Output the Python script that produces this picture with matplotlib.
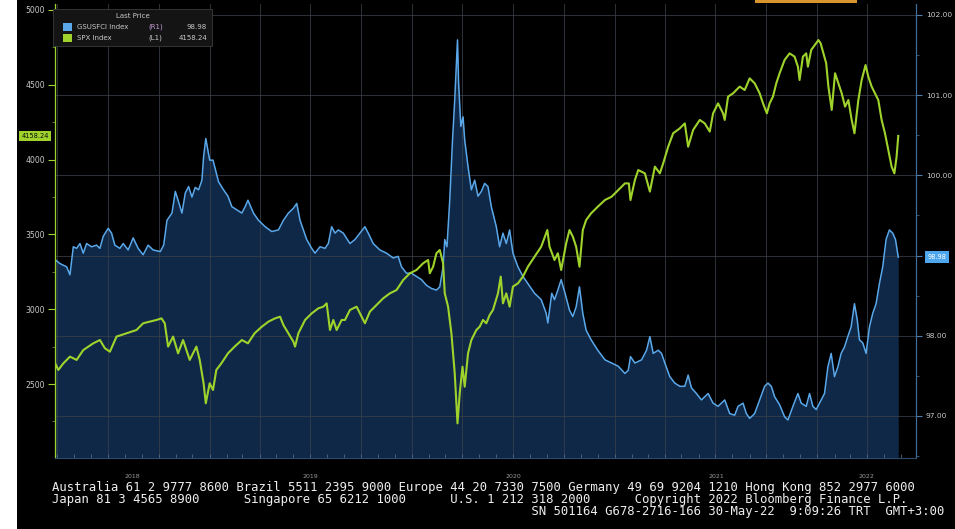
import matplotlib
matplotlib.use("Agg")
import matplotlib.pyplot as plt
import matplotlib.dates as mdates
import matplotlib.transforms as mtransforms
from matplotlib.patches import Rectangle
from matplotlib.ticker import FixedLocator, MultipleLocator, FormatStrFormatter
import pandas as pd

# ---------------- data ----------------
spx_dates = [
    '2018-03-28', '2018-04-03', '2018-04-12', '2018-04-24', '2018-05-06', '2018-05-18', '2018-06-05', '2018-06-17', '2018-06-26', '2018-07-05',
    '2018-07-17', '2018-08-04', '2018-08-22', '2018-09-03', '2018-09-15', '2018-09-27', '2018-10-06', '2018-10-12', '2018-10-18', '2018-10-27',
    '2018-11-05', '2018-11-14', '2018-11-26', '2018-12-08', '2018-12-14', '2018-12-21', '2018-12-25', '2019-01-01', '2019-01-07', '2019-01-13',
    '2019-01-22', '2019-02-03', '2019-02-15', '2019-02-28', '2019-03-11', '2019-03-23', '2019-04-05', '2019-04-17', '2019-04-29', '2019-05-08',
    '2019-05-14', '2019-05-23', '2019-06-01', '2019-06-04', '2019-06-10', '2019-06-22', '2019-07-04', '2019-07-16', '2019-07-25', '2019-07-31',
    '2019-08-06', '2019-08-12', '2019-08-18', '2019-08-27', '2019-09-02', '2019-09-11', '2019-09-23', '2019-10-02', '2019-10-08', '2019-10-17',
    '2019-10-29', '2019-11-10', '2019-11-22', '2019-12-04', '2019-12-16', '2019-12-28', '2020-01-09', '2020-01-21', '2020-01-30', '2020-02-02',
    '2020-02-08', '2020-02-14', '2020-02-20', '2020-02-26', '2020-02-29', '2020-03-06', '2020-03-12', '2020-03-18', '2020-03-23', '2020-03-27',
    '2020-04-01', '2020-04-05', '2020-04-11', '2020-04-17', '2020-04-26', '2020-05-02', '2020-05-08', '2020-05-14', '2020-05-20', '2020-05-26',
    '2020-06-04', '2020-06-09', '2020-06-13', '2020-06-19', '2020-06-25', '2020-07-01', '2020-07-10', '2020-07-19', '2020-07-28', '2020-08-09',
    '2020-08-21', '2020-09-01', '2020-09-05', '2020-09-14', '2020-09-20', '2020-09-26', '2020-10-05', '2020-10-11', '2020-10-17', '2020-10-23',
    '2020-10-29', '2020-11-04', '2020-11-10', '2020-11-19', '2020-12-01', '2020-12-14', '2020-12-26', '2021-01-07', '2021-01-19', '2021-01-26',
    '2021-01-29', '2021-02-06', '2021-02-12', '2021-02-24', '2021-03-05', '2021-03-14', '2021-03-23', '2021-03-29', '2021-04-07', '2021-04-16',
    '2021-04-28', '2021-05-07', '2021-05-13', '2021-05-22', '2021-06-03', '2021-06-12', '2021-06-21', '2021-06-27', '2021-07-06', '2021-07-15',
    '2021-07-18', '2021-07-24', '2021-08-02', '2021-08-14', '2021-08-23', '2021-09-01', '2021-09-10', '2021-09-19', '2021-09-25', '2021-10-02',
    '2021-10-07', '2021-10-13', '2021-10-19', '2021-10-25', '2021-11-03', '2021-11-12', '2021-11-21', '2021-11-27', '2021-11-30', '2021-12-06',
    '2021-12-12', '2021-12-15', '2021-12-21', '2022-01-03', '2022-01-07', '2022-01-12', '2022-01-17', '2022-01-21', '2022-01-27', '2022-02-02',
    '2022-02-08', '2022-02-14', '2022-02-20', '2022-02-26', '2022-03-04', '2022-03-09', '2022-03-16', '2022-03-22', '2022-03-29', '2022-04-03',
    '2022-04-09', '2022-04-15', '2022-04-21', '2022-04-27', '2022-05-03', '2022-05-09', '2022-05-15', '2022-05-20', '2022-05-24', '2022-05-27',
]
spx_values = [
    2640, 2594, 2638, 2683, 2661, 2727, 2772, 2794, 2739, 2716,
    2817, 2839, 2861, 2906, 2917, 2928, 2939, 2906, 2750, 2817,
    2705, 2794, 2661, 2750, 2661, 2505, 2371, 2505, 2460, 2594,
    2638, 2705, 2750, 2794, 2772, 2839, 2883, 2917, 2939, 2950,
    2894, 2839, 2783, 2750, 2839, 2928, 2972, 3006, 3017, 3039,
    2861, 2928, 2861, 2928, 2928, 2995, 3017, 2950, 2906, 2984,
    3028, 3073, 3106, 3128, 3195, 3240, 3262, 3307, 3329, 3240,
    3284, 3374, 3396, 3307, 3106, 3017, 2839, 2571, 2237, 2438,
    2616, 2482, 2705, 2794, 2861, 2883, 2928, 2906, 2961, 2995,
    3106, 3218, 3039, 3106, 3017, 3151, 3173, 3218, 3284, 3351,
    3418, 3529, 3418, 3329, 3374, 3262, 3440, 3529, 3485, 3418,
    3284, 3529, 3596, 3641, 3685, 3730, 3752, 3797, 3841, 3841,
    3730, 3864, 3930, 3908, 3786, 3953, 3908, 3975, 4086, 4176,
    4209, 4242, 4086, 4198, 4265, 4242, 4187, 4309, 4376, 4309,
    4265, 4421, 4443, 4488, 4465, 4543, 4510, 4443, 4376, 4309,
    4376, 4421, 4510, 4577, 4666, 4710, 4688, 4621, 4532, 4688,
    4710, 4621, 4733, 4799, 4777, 4710, 4644, 4488, 4332, 4577,
    4510, 4443, 4354, 4398, 4265, 4176, 4398, 4532, 4632, 4554,
    4488, 4443, 4398, 4265, 4176, 4064, 3953, 3908, 4020, 4158.24,
]

fci_dates = [
    '2018-03-28', '2018-04-06', '2018-04-18', '2018-04-24', '2018-04-30', '2018-05-06', '2018-05-12', '2018-05-18', '2018-05-24', '2018-06-02',
    '2018-06-11', '2018-06-17', '2018-06-23', '2018-07-02', '2018-07-08', '2018-07-14', '2018-07-23', '2018-07-29', '2018-08-07', '2018-08-16',
    '2018-08-25', '2018-09-03', '2018-09-12', '2018-09-21', '2018-10-04', '2018-10-10', '2018-10-16', '2018-10-25', '2018-10-31', '2018-11-05',
    '2018-11-12', '2018-11-18', '2018-11-24', '2018-11-30', '2018-12-06', '2018-12-12', '2018-12-18', '2018-12-21', '2018-12-25', '2019-01-01',
    '2019-01-07', '2019-01-13', '2019-01-17', '2019-01-26', '2019-02-03', '2019-02-10', '2019-02-19', '2019-02-28', '2019-03-06', '2019-03-11',
    '2019-03-21', '2019-03-30', '2019-04-11', '2019-04-23', '2019-05-05', '2019-05-14', '2019-05-23', '2019-06-01', '2019-06-07', '2019-06-13',
    '2019-06-19', '2019-06-25', '2019-07-04', '2019-07-10', '2019-07-19', '2019-07-28', '2019-08-03', '2019-08-09', '2019-08-15', '2019-08-21',
    '2019-08-30', '2019-09-11', '2019-09-20', '2019-09-29', '2019-10-08', '2019-10-14', '2019-10-23', '2019-11-04', '2019-11-16', '2019-11-28',
    '2019-12-07', '2019-12-13', '2019-12-22', '2019-12-31', '2020-01-09', '2020-01-18', '2020-01-27', '2020-02-05', '2020-02-14', '2020-02-20',
    '2020-02-26', '2020-02-29', '2020-03-04', '2020-03-09', '2020-03-14', '2020-03-18', '2020-03-23', '2020-03-25', '2020-03-29', '2020-04-02',
    '2020-04-05', '2020-04-11', '2020-04-17', '2020-04-23', '2020-04-29', '2020-05-05', '2020-05-11', '2020-05-17', '2020-05-23', '2020-06-01',
    '2020-06-07', '2020-06-13', '2020-06-19', '2020-06-25', '2020-07-01', '2020-07-10', '2020-07-19', '2020-07-28', '2020-08-09', '2020-08-21',
    '2020-08-30', '2020-09-02', '2020-09-09', '2020-09-14', '2020-09-20', '2020-09-26', '2020-10-03', '2020-10-11', '2020-10-17', '2020-10-23',
    '2020-10-29', '2020-11-04', '2020-11-10', '2020-11-19', '2020-12-01', '2020-12-14', '2020-12-26', '2021-01-07', '2021-01-19', '2021-01-25',
    '2021-01-29', '2021-02-06', '2021-02-18', '2021-02-27', '2021-03-05', '2021-03-11', '2021-03-20', '2021-03-26', '2021-04-01', '2021-04-10',
    '2021-04-19', '2021-04-28', '2021-05-07', '2021-05-13', '2021-05-19', '2021-05-28', '2021-06-06', '2021-06-18', '2021-06-27', '2021-07-06',
    '2021-07-18', '2021-07-27', '2021-08-05', '2021-08-11', '2021-08-20', '2021-08-26', '2021-09-01', '2021-09-10', '2021-09-19', '2021-09-28',
    '2021-10-04', '2021-10-10', '2021-10-16', '2021-10-25', '2021-11-03', '2021-11-09', '2021-11-18', '2021-11-27', '2021-12-03', '2021-12-12',
    '2021-12-18', '2021-12-24', '2021-12-30', '2022-01-08', '2022-01-14', '2022-01-20', '2022-01-26', '2022-02-01', '2022-02-07', '2022-02-13',
    '2022-02-19', '2022-02-25', '2022-03-03', '2022-03-09', '2022-03-14', '2022-03-18', '2022-03-24', '2022-03-30', '2022-04-05', '2022-04-11',
    '2022-04-17', '2022-04-23', '2022-04-29', '2022-05-05', '2022-05-11', '2022-05-17', '2022-05-22', '2022-05-27',
]
fci_values = [
    98.95, 98.90, 98.86, 98.76, 99.11, 99.09, 99.15, 99.03, 99.15, 99.11,
    99.13, 99.09, 99.24, 99.34, 99.28, 99.13, 99.09, 99.15, 99.07, 99.22,
    99.09, 99.01, 99.13, 99.07, 99.05, 99.13, 99.44, 99.53, 99.80, 99.69,
    99.53, 99.78, 99.86, 99.73, 99.85, 99.82, 99.94, 100.23, 100.46, 100.19,
    100.19, 100.03, 99.92, 99.82, 99.74, 99.61, 99.57, 99.53, 99.61, 99.69,
    99.53, 99.44, 99.36, 99.30, 99.32, 99.44, 99.53, 99.59, 99.65, 99.44,
    99.32, 99.20, 99.09, 99.03, 99.11, 99.09, 99.15, 99.36, 99.28, 99.32,
    99.28, 99.15, 99.20, 99.28, 99.36, 99.28, 99.15, 99.07, 99.03, 98.97,
    98.99, 98.86, 98.78, 98.78, 98.74, 98.70, 98.63, 98.59, 98.57, 98.61,
    98.86, 99.20, 99.11, 99.69, 100.44, 100.94, 101.69, 101.15, 100.61, 100.73,
    100.44, 100.11, 99.82, 99.94, 99.74, 99.80, 99.90, 99.86, 99.61, 99.36,
    99.11, 99.28, 99.15, 99.32, 99.03, 98.86, 98.74, 98.65, 98.53, 98.45,
    98.28, 98.16, 98.53, 98.45, 98.57, 98.70, 98.53, 98.32, 98.24, 98.36,
    98.61, 98.28, 98.07, 97.95, 97.82, 97.70, 97.66, 97.62, 97.53, 97.57,
    97.74, 97.66, 97.70, 97.82, 97.99, 97.78, 97.82, 97.78, 97.66, 97.49,
    97.41, 97.37, 97.37, 97.51, 97.35, 97.28, 97.20, 97.28, 97.16, 97.12,
    97.20, 97.03, 97.01, 97.12, 97.16, 97.03, 96.97, 97.03, 97.20, 97.37,
    97.41, 97.37, 97.24, 97.14, 96.99, 96.95, 97.12, 97.28, 97.16, 97.12,
    97.28, 97.12, 97.08, 97.20, 97.28, 97.61, 97.78, 97.49, 97.61, 97.78,
    97.86, 97.99, 98.11, 98.40, 98.20, 97.95, 97.91, 97.78, 98.11, 98.28,
    98.40, 98.65, 98.86, 99.20, 99.32, 99.28, 99.20, 98.98,
]

spx_ticks = [2500, 3000, 3500, 4000, 4500, 5000]
fci_ticks = [97, 98, 99, 100, 101, 102]
year_labels = ['2018', '2019', '2020', '2021', '2022']

legend_title = 'Last Price'
fci_name, fci_axis = 'GSUSFCI Index', '(R1)'
spx_name, spx_axis = 'SPX Index', '(L1)'

footer_lines = [
    'Australia 61 2 9777 8600 Brazil 5511 2395 9000 Europe 44 20 7330 7500 Germany 49 69 9204 1210 Hong Kong 852 2977 6000',
    'Japan 81 3 4565 8900      Singapore 65 6212 1000      U.S. 1 212 318 2000      Copyright 2022 Bloomberg Finance L.P.',
    ' ' * 65 + 'SN 501164 G678-2716-166 30-May-22  9:09:26 TRT  GMT+3:00',
]

# ---------------- styling ----------------
W, H = 955, 529
SPX_C = '#9fd32c'
FCI_C = '#5aa8ea'
FILL_C = '#0f2848'
TXT_C = '#c8c8c8'
GRID_C = '#3a3f48'


def P(x, y):
    return (x / W, 1 - y / H)


fig = plt.figure(figsize=(W / 100, H / 100), dpi=100, facecolor='black')
L, R, T, B = 55, 916, 4, 458
rect = [L / W, 1 - B / H, (R - L) / W, (B - T) / H]
ax = fig.add_axes(rect)          # SPX, left axis
ax2 = ax.twinx()                 # GSUSFCI, right axis
ax.set_zorder(ax2.get_zorder() + 1)
ax.patch.set_visible(False)
ax2.patch.set_visible(True)
ax2.patch.set_facecolor('black')

sd = pd.to_datetime(spx_dates)
fd = pd.to_datetime(fci_dates)

x_start = pd.Timestamp('2018-03-28')
x_end = pd.Timestamp('2022-06-28')
ax.set_xlim(x_start, x_end)

spx_lo, spx_hi = 2005.5, 5040
fci_lo, fci_hi = 96.476, 102.137
ax.set_ylim(spx_lo, spx_hi)
ax2.set_ylim(fci_lo, fci_hi)

# FCI area + line
ax2.fill_between(fd, fci_values, fci_lo, color=FILL_C, lw=0, zorder=1)
ax2.plot(fd, fci_values, color=FCI_C, lw=1.1, zorder=2)
# SPX line
ax.plot(sd, spx_values, color=SPX_C, lw=1.5, zorder=3)

# grid
ax2.set_axisbelow('line')
ax2.yaxis.grid(True, color=GRID_C, lw=0.7, alpha=0.8)
for q in pd.date_range('2018-04-01', '2022-04-01', freq='QS'):
    ax2.axvline(q, color=GRID_C, lw=0.7, alpha=0.8, zorder=1.5)

# left axis
ax.yaxis.set_major_locator(FixedLocator(spx_ticks))
ax.yaxis.set_minor_locator(MultipleLocator(250))
ax.tick_params(axis='y', which='major', length=5, width=0.8, color=SPX_C,
               labelcolor=TXT_C, labelsize=5.6, pad=2)
ax.tick_params(axis='y', which='minor', length=2, width=0.6, color='#6a8a2a')
# right axis
ax2.yaxis.set_major_locator(FixedLocator(fci_ticks))
ax2.yaxis.set_minor_locator(MultipleLocator(0.5))
ax2.yaxis.set_major_formatter(FormatStrFormatter('%.2f'))
ax2.tick_params(axis='y', which='major', length=4, width=0.8, color='#4f7fae',
                labelcolor=TXT_C, labelsize=5.4, pad=3)
ax2.tick_params(axis='y', which='minor', length=2, width=0.6, color='#3d6288')

# x axis: monthly small ticks, no labels
ax.xaxis.set_major_locator(mdates.MonthLocator())
ax.tick_params(axis='x', which='major', direction='in', length=3, width=0.6,
               color='#4e6a8c', labelbottom=False)

for s in ['top', 'right']:
    ax.spines[s].set_visible(False)
ax.spines['left'].set_color(SPX_C)
ax.spines['left'].set_linewidth(0.9)
ax.spines['bottom'].set_color('#2c4a6a')
ax.spines['bottom'].set_linewidth(0.8)
for s in ['top', 'left', 'bottom']:
    ax2.spines[s].set_visible(False)
ax2.spines['right'].set_color('#3f6c98')
ax2.spines['right'].set_linewidth(0.9)

# year labels centred in each year span
blend_x = mtransforms.blended_transform_factory(ax.transData, fig.transFigure)
x0, x1 = ax.get_xlim()
bounds = [x0] + [mdates.date2num(pd.Timestamp(f'{y}-01-01')) for y in year_labels[1:]] + [x1]
for i, lab in enumerate(year_labels):
    xm = (bounds[i] + bounds[i + 1]) / 2
    ax.text(xm, 1 - 476 / H, lab, transform=blend_x, ha='center', va='center',
            fontsize=4.5, color='#9a9a9a', clip_on=False)

# value tags on the axes
tl = mtransforms.blended_transform_factory(fig.transFigure, ax.transData)
fig.text(35 / W, spx_values[-1], f'{spx_values[-1]:.2f}', transform=tl, ha='center', va='center',
         fontsize=4.8, color='#0a0a0a', zorder=12,
         bbox=dict(boxstyle='square,pad=0.35', fc=SPX_C, ec='none'))
tr = mtransforms.blended_transform_factory(fig.transFigure, ax2.transData)
fig.text(937 / W, fci_values[-1], f'{fci_values[-1]:.2f}', transform=tr, ha='center', va='center',
         fontsize=4.8, color='white', zorder=12,
         bbox=dict(boxstyle='square,pad=0.45', fc='#4ea6ec', ec='none'))

# legend box
fig.patches.append(Rectangle(P(53, 46), 159 / W, 37 / H, transform=fig.transFigure,
                             fc='#141414', ec='#3a3a3a', lw=0.6, zorder=5))
fig.text(*P(133, 16), legend_title, ha='center', va='center', fontsize=5, color=TXT_C, zorder=6)
for yy, col, name, axis_lab, val in [(27, FCI_C, fci_name, fci_axis, f'{fci_values[-1]:.2f}'),
                                      (38, SPX_C, spx_name, spx_axis, f'{spx_values[-1]:.2f}')]:
    fig.patches.append(Rectangle(P(63, yy + 4), 9 / W, 8 / H, transform=fig.transFigure,
                                 fc=col, ec='none', zorder=6))
    fig.text(*P(77, yy), name, ha='left', va='center', fontsize=5, color=TXT_C, zorder=6)
    fig.text(*P(148, yy), axis_lab, ha='left', va='center', fontsize=5,
             color='#c79ad6' if axis_lab == fci_axis else TXT_C, zorder=6)
    fig.text(*P(207, yy), val, ha='right', va='center', fontsize=5, color=TXT_C, zorder=6)

# Bloomberg footer
for yy, line in zip([487, 500, 512], footer_lines):
    fig.text(*P(52, yy), line, ha='left', va='center', family='DejaVu Sans Mono',
             fontsize=8.8, color='#eeeeee')

# white strip on the left and toolbar remnant on top
fig.patches.append(Rectangle((0, 0), 17 / W, 1, transform=fig.transFigure,
                             fc='white', ec='none', zorder=10))
fig.patches.append(Rectangle(P(755, 3), 102 / W, 3 / H, transform=fig.transFigure,
                             fc='#d9952e', ec='none', zorder=10))

fig.savefig('out.png', dpi=100, facecolor='black')
